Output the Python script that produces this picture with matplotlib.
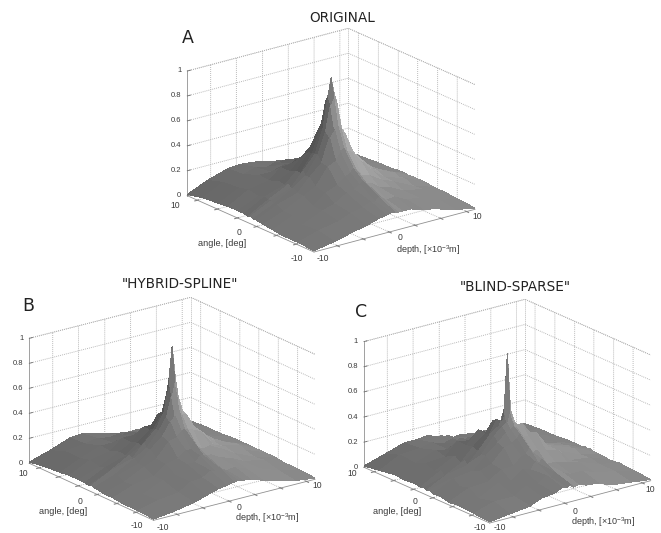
import numpy as np
import matplotlib
matplotlib.use("Agg")
import matplotlib.pyplot as plt
from mpl_toolkits.mplot3d import proj3d

# ---- data (surface heights in percent) ----
depth_mm = [-10, -7.5, -5, -3.5, -2, -1, -.4, 0, .4, 1, 2, 3.5, 5, 7.5, 10]
angle_deg = [-10, -7.5, -5, -3.5, -2, -1, -.4, 0, .4, 1, 2, 3.5, 5, 7.5, 10]

z_original = [
    [1, 4, 8, 10, 13, 14, 15, 15, 14, 14, 14, 11, 9, 4, 1],
    [2, 7, 10, 14, 16, 19, 18, 21, 20, 17, 18, 13, 12, 6, 2],
    [2, 6, 13, 16, 22, 23, 26, 28, 26, 25, 20, 17, 12, 9, 3],
    [3, 10, 13, 21, 25, 30, 32, 35, 33, 28, 26, 20, 16, 8, 3],
    [4, 10, 18, 23, 36, 39, 45, 48, 45, 43, 35, 24, 16, 11, 4],
    [5, 13, 18, 28, 37, 56, 62, 65, 62, 55, 38, 25, 19, 10, 4],
    [5, 12, 21, 28, 42, 60, 80, 86, 80, 58, 40, 29, 18, 12, 4],
    [6, 14, 20, 31, 42, 62, 86, 100, 86, 62, 44, 28, 20, 10, 4],
    [5, 14, 22, 28, 42, 60, 80, 86, 80, 59, 42, 27, 19, 11, 3],
    [6, 15, 20, 29, 41, 55, 62, 64, 62, 56, 38, 27, 16, 10, 4],
    [6, 13, 21, 26, 36, 42, 45, 46, 45, 40, 34, 22, 17, 8, 4],
    [6, 15, 18, 26, 27, 29, 30, 32, 30, 29, 24, 21, 13, 9, 3],
    [5, 13, 19, 19, 22, 21, 24, 24, 23, 21, 21, 15, 13, 6, 3],
    [4, 12, 14, 17, 15, 17, 16, 17, 15, 16, 13, 13, 8, 7, 2],
    [1, 8, 13, 14, 13, 12, 11, 10, 9, 8, 7, 6, 5, 4, 1],
]
z_hybrid = [
    [1, 3, 6, 9, 12, 13, 14, 14, 15, 14, 13, 10, 7, 3, 1],
    [2, 6, 8, 14, 15, 19, 17, 20, 18, 16, 17, 13, 11, 5, 2],
    [2, 5, 12, 14, 20, 20, 24, 24, 23, 23, 19, 16, 11, 8, 2],
    [3, 9, 12, 19, 21, 26, 26, 31, 27, 24, 25, 20, 14, 7, 3],
    [3, 8, 16, 20, 31, 33, 37, 38, 37, 36, 33, 20, 16, 9, 3],
    [4, 11, 16, 25, 33, 43, 47, 53, 47, 46, 34, 25, 15, 11, 3],
    [4, 10, 19, 25, 36, 46, 62, 74, 61, 47, 35, 26, 16, 11, 3],
    [5, 13, 18, 28, 37, 49, 74, 100, 74, 47, 37, 25, 18, 9, 3],
    [4, 11, 20, 25, 36, 46, 61, 73, 60, 46, 34, 26, 15, 10, 3],
    [5, 13, 18, 26, 34, 45, 46, 50, 46, 41, 33, 22, 16, 8, 3],
    [5, 11, 19, 24, 34, 34, 36, 36, 36, 31, 29, 19, 15, 7, 3],
    [5, 13, 16, 24, 24, 26, 24, 28, 24, 25, 20, 18, 11, 8, 3],
    [4, 11, 17, 17, 19, 18, 20, 19, 20, 17, 17, 13, 12, 5, 2],
    [3, 11, 13, 15, 13, 14, 12, 14, 12, 13, 10, 11, 7, 6, 2],
    [1, 6, 12, 13, 11, 9, 8, 7, 7, 6, 5, 5, 4, 3, 1],
]
z_blind = [
    [1, 3, 5, 9, 10, 13, 12, 14, 11, 12, 10, 9, 5, 3, 1],
    [2, 7, 7, 13, 12, 17, 14, 18, 15, 16, 13, 13, 9, 6, 2],
    [3, 4, 12, 11, 18, 16, 21, 19, 22, 17, 17, 14, 12, 6, 3],
    [2, 9, 10, 17, 17, 23, 24, 28, 24, 25, 23, 21, 10, 8, 2],
    [4, 7, 15, 18, 28, 30, 33, 36, 33, 33, 34, 20, 14, 7, 3],
    [3, 11, 13, 22, 30, 36, 38, 40, 38, 41, 32, 20, 12, 10, 3],
    [5, 9, 18, 22, 34, 40, 42, 52, 42, 38, 30, 19, 15, 9, 4],
    [4, 12, 15, 25, 36, 40, 52, 96, 50, 38, 34, 22, 14, 10, 3],
    [5, 10, 18, 23, 33, 44, 42, 50, 41, 38, 29, 21, 15, 8, 4],
    [4, 13, 15, 25, 33, 42, 38, 40, 37, 35, 28, 17, 14, 9, 3],
    [5, 10, 18, 24, 34, 30, 31, 32, 31, 27, 26, 17, 11, 8, 3],
    [4, 13, 14, 24, 22, 23, 20, 24, 20, 21, 16, 14, 12, 6, 3],
    [5, 10, 16, 14, 17, 14, 16, 14, 16, 13, 14, 11, 8, 7, 2],
    [3, 11, 12, 14, 11, 13, 10, 12, 9, 11, 8, 10, 7, 4, 2],
    [1, 6, 11, 11, 12, 9, 9, 7, 8, 5, 6, 4, 4, 3, 1],
]

depth_ticks = [-7.1, -3.9, -0.65, 2.55, 5.75, 8.95]
angle_ticks = [-7.2, -4.1, -0.95, 2.1, 5.25, 8.4]
z_ticks = [0, 0.2, 0.4, 0.6, 0.8, 1]
z_tick_labels = ["0", "0.2", "0.4", "0.6", "0.8", "1"]

W, H = 661, 533
GRID = "#b0b0b0"
TXT = "#3a3a3a"
plt.rcParams.update({
    "font.family": "DejaVu Sans",
    "grid.color": GRID,
    "grid.linewidth": 0.65,
    "grid.linestyle": (0, (1, 1.2)),
    "mathtext.default": "regular",
})

fig = plt.figure(figsize=(W / 100, H / 100), dpi=100, facecolor="white")


def px(x, y):
    return x / W, 1 - y / H


def shade(Z):
    """Soft grey level per facet from a directional light at the lower right."""
    zs = Z * 13.0
    gy, gx = np.gradient(zs, np.array(angle_deg), np.array(depth_mm))
    norm = np.sqrt(gx ** 2 + gy ** 2 + 1)
    nx, ny = -gx / norm, -gy / norm
    g = 0.49 + 0.24 * (0.75 * nx - 0.66 * ny)
    # smooth shading: grey of a facet is the mean over its corners and neighbours
    p = np.pad(g, 1, mode="edge")
    g = (p[:-2, :-2] + p[:-2, 1:-1] + p[1:-1, :-2] + 3 * p[1:-1, 1:-1]
         + p[1:-1, 2:] + p[2:, 1:-1] + p[2:, 2:]) / 9
    g = np.clip(g, 0.33, 0.72)
    return np.dstack([g, g, g, np.ones_like(g)])


def panel(Zpct, L, R, B, h, label_pos):
    L, R, B = map(lambda p: np.array(p, float), (L, R, B))
    F = L + R - B
    exx, exu = (R - F)[0], (F - R)[1]
    eyx, eyu = (F - L)[0], (F - L)[1]
    s = np.sqrt(exu / eyx * eyu / exx)
    ratio = (exu / eyx) / s
    t = np.arctan(exx / eyx / ratio)
    elev = np.degrees(np.arcsin(s))
    azim = -180 + np.degrees(t)
    a = exx / np.sin(t)
    b = eyx / np.cos(t)
    c = h / np.cos(np.radians(elev))

    ax = fig.add_axes([0, 0, 400 / W, 400 / H], projection="3d")
    ax.patch.set_alpha(0)
    ax.computed_zorder = False
    ax.set_proj_type("ortho")
    ax.view_init(elev=elev, azim=azim)
    ax.set_xlim(-10, 10)
    ax.set_ylim(-10, 10)
    ax.set_zlim(0, 1)
    ax.set_box_aspect((a, b, c))

    # back box edges and z axis
    ls = plt.rcParams["grid.linestyle"]
    ax.plot([-10, 10, 10], [10, 10, -10], [1, 1, 1], color=GRID, lw=0.65, ls=ls, zorder=1)
    ax.plot([10, 10], [10, 10], [0, 1], color=GRID, lw=0.65, ls=ls, zorder=1)
    ax.plot([-10, -10], [10, 10], [0, 1], color="#909090", lw=0.6, zorder=1)
    for zt in z_ticks:
        ax.plot([-10, -9.6], [10, 10], [zt, zt], color="#707070", lw=0.6, zorder=1)

    Z = np.array(Zpct, float) / 100
    X, Y = np.meshgrid(depth_mm, angle_deg)
    ax.plot_surface(X, Y, Z, facecolors=shade(Z), shade=False, rstride=1, cstride=1,
                    linewidth=0, antialiased=False, zorder=5)

    ax.set_xticks(depth_ticks)
    ax.set_yticks(angle_ticks)
    ax.set_zticks(z_ticks)
    ax.set_xticklabels([])
    ax.set_yticklabels([])
    ax.set_zticklabels([])
    for axis in (ax.xaxis, ax.yaxis, ax.zaxis):
        axis.set_pane_color((1, 1, 1, 0))
        axis.pane.set_edgecolor("none")
    for axis in (ax.xaxis, ax.yaxis):
        axis.line.set_color("#909090")
        axis.line.set_linewidth(0.6)
        axis.set_tick_params(color="#808080", width=0.5)
    ax.zaxis.line.set_color((0, 0, 0, 0))
    ax.zaxis.set_tick_params(color=(0, 0, 0, 0))

    # fit the box to the corners measured in the picture
    M = ax.get_proj()
    xs, ys, _ = proj3d.proj_transform(np.array([-10., 10.]), np.array([10., -10.]),
                                      np.array([0., 0.]), M)
    ax.apply_aspect()
    p = ax.transData.transform([[0, 0], [1, 1]])
    k0 = p[1, 0] - p[0, 0]
    k = (R[0] - L[0]) / (xs[1] - xs[0])
    S = 400 * k / k0
    ax.set_position([0, 0, S / W, S / H])
    ax.apply_aspect()
    d = ax.transData.transform([[xs[0], ys[0]], [xs[1], ys[1]]]).mean(axis=0)
    tx = (L[0] + R[0]) / 2 - d[0]
    ty = (H - (L[1] + R[1]) / 2) - d[1]
    ax.set_position([tx / W, ty / H, S / W, S / H])

    # text
    for zt, lab in zip(z_ticks, z_tick_labels):
        xx, yy = px(L[0] - 6, L[1] - zt * h)
        fig.text(xx, yy, lab, ha="right", va="center", fontsize=5.5,
                 family="Liberation Sans", color=TXT)
    for (xv, yv), lab in zip(label_pos, ["10", "0", "-10", "-10", "0", "10"]):
        xx, yy = px(xv, yv)
        fig.text(xx, yy, lab, ha="center", va="center", fontsize=6.2,
                 family="Liberation Sans", color=TXT)
    return ax


panel(z_original, (187.3, 195.7), (475, 209.3), (348.3, 153), 124.7,
      [(175, 206), (239, 232), (297, 259), (323, 259), (400, 238), (477, 217)])
panel(z_hybrid, (29.3, 463.3), (315, 479.3), (190.7, 422.3), 125,
      [(23, 474), (80, 501), (137, 526), (163, 528), (239, 507), (317, 486)])
panel(z_blind, (364, 467.3), (650.7, 480.7), (525, 425), 125.7,
      [(352, 474), (415, 502), (480, 527.5), (500, 527.5), (575, 511), (650, 490)])

for (x, y, s) in [(342, 18, "ORIGINAL"), (180, 284, '"HYBRID-SPLINE"'), (515, 287, '"BLIND-SPARSE"')]:
    xx, yy = px(x, y)
    fig.text(xx, yy, s, ha="center", va="center", fontsize=9.8, color="#222222")
for (x, y, s) in [(188, 38, "A"), (28, 306, "B"), (361, 312, "C")]:
    xx, yy = px(x, y)
    fig.text(xx, yy, s, ha="center", va="center", fontsize=12.5, color="#222222")
for (x, y) in [(222, 243), (63, 511), (397, 512)]:
    xx, yy = px(x, y)
    fig.text(xx, yy, "angle, [deg]", ha="center", va="center", fontsize=6.6,
             family="Liberation Sans", color=TXT)
for (x, y) in [(428, 250), (267, 518), (603, 522)]:
    xx, yy = px(x, y)
    fig.text(xx, yy, r"depth, [$\times$10$^{-3}$m]", ha="center", va="center", fontsize=6.5,
             family="Liberation Sans", color=TXT)

fig.savefig("out.png", dpi=100)
